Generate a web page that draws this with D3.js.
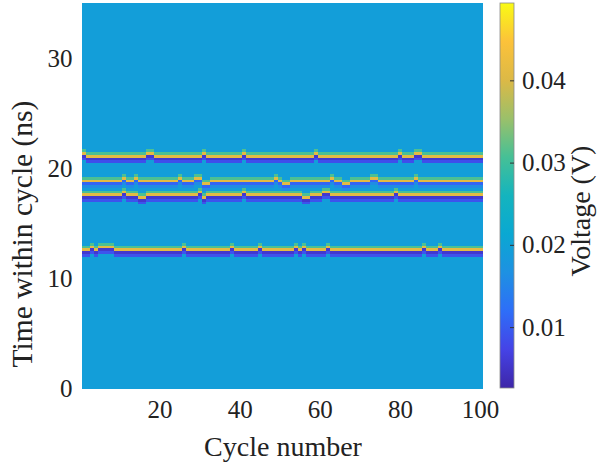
<!DOCTYPE html>
<html lang="en">

<head>
  <meta charset="UTF-8">
  <title>Voltage map per cycle</title>
  <style>
    body { margin: 0; background: #fff; }
    text { font-family: "Liberation Serif", "Times New Roman", serif; fill: #222; }
  </style>
</head>

<body>
  <div id="chart"></div>

  <script src="https://d3js.org/d3.v7.min.js"></script>
  <script>
    // ---- data ----
    const cycles = d3.range(1, 101)
    const timeStep = 0.25            // ns per sample
    const timeMax = 35
    const backgroundLevel = 0.0192   // V, flat part of the map

    // bright/dark pulse pairs: time of the bright sample (ns) and levels (V)
    const bandTimes = [21.0, 18.75, 17.5, 12.5]
    const bandRise = [0.031, 0.031, 0.031, 0.031]   // sample just after the peak
    const bandPeak = [0.041, 0.041, 0.041, 0.041]
    const bandDip = [0.0055, 0.011, 0.0055, 0.0055]
    const bandTail = [0.0085, 0.016, 0.009, 0.009]

    // per-cycle shift of each band, in samples (+1 = one sample later)
    const band1Shift = [1,0,0,0,0,0,0,0,0,0, 0,0,0,0,0,0,1,1,0,0, 0,0,0,0,0,0,0,0,0,0,
                        1,0,0,0,0,0,0,0,0,0, 1,0,0,0,0,0,0,0,0,0, 0,0,0,0,0,0,0,0,1,0,
                        0,0,0,0,0,0,0,0,0,0, 0,0,0,0,0,0,0,0,0,1, 0,0,0,1,1,0,0,0,0,0,
                        0,0,0,0,0,0,0,0,0,0]
    const band2Shift = [0,0,0,0,0,0,0,0,0,0, 1,0,0,1,0,0,0,0,0,0, 0,0,0,0,1,0,0,0,1,1,
                        -1,-1,0,0,0,0,0,0,0,0, 0,0,0,0,0,0,0,0,1,0, -1,-1,0,0,0,0,0,0,0,0,
                        0,0,1,0,0,-1,-1,0,0,0, 0,0,1,1,0,0,0,0,0,0, 0,0,0,1,0,0,0,0,0,0,
                        0,0,0,0,0,0,0,0,0,0]
    const band3Shift = [0,0,0,0,0,0,0,0,0,0, 1,0,0,0,-1,-1,0,0,0,0, 0,0,0,0,0,0,0,0,0,1,
                        -1,0,0,0,0,0,0,0,0,0, 1,0,0,0,0,0,0,0,0,0, 0,0,0,0,0,-1,-1,0,0,0,
                        1,1,0,0,0,0,0,0,0,0, 0,0,0,0,0,0,0,0,1,0, 0,0,0,0,0,0,0,0,0,0,
                        0,0,0,0,0,0,0,0,0,0]
    const band4Shift = [0,0,1,0,1,1,1,1,0,0, 0,0,0,0,0,0,0,0,0,0, 0,0,0,0,0,1,0,0,0,0,
                        0,0,0,0,0,0,0,1,0,0, 0,0,0,0,1,0,0,0,0,0, 0,0,0,1,0,1,0,0,0,0,
                        0,1,0,0,0,0,0,0,0,0, 0,0,0,0,0,0,0,0,0,0, 0,0,0,0,0,1,0,0,0,1,
                        0,0,0,0,0,0,0,0,0,0]
    const bandShifts = [band1Shift, band2Shift, band3Shift, band4Shift]

    const xTicks = [20, 40, 60, 80, 100]
    const yTicks = [0, 10, 20, 30]
    const cTicks = [0.01, 0.02, 0.03, 0.04]
    const cRange = [0.0026, 0.0494]

    // parula, sampled
    const parulaStops = ['#3e26a8', '#4543e6', '#2e6ef8', '#1e91e2', '#0aa8d2',
                         '#14b4be', '#46c096', '#9bc06a', '#dcb946', '#fcc23a', '#f9fb14']

    // ---- layout ----
    const width = 598
    const height = 466
    const plot = { left: 81.5, right: 482, top: 3, bottom: 388 }
    const bar = { left: 500, right: 514 }

    const svg = d3.select('#chart').append('svg')
      .attr('width', width)
      .attr('height', height)

    const x = d3.scaleLinear().domain([0.5, 100.5]).range([plot.left, plot.right])
    const y = d3.scaleLinear().domain([0, timeMax]).range([plot.bottom, plot.top])
    const tOf = d3.scaleLinear().domain(cRange).range([0, 1]).clamp(true)
    const color = d3.scaleLinear()
      .domain(parulaStops.map((d, i) => i / (parulaStops.length - 1)))
      .range(parulaStops)
    const colorOf = v => color(tOf(v))

    // build the matrix
    const nRows = Math.round(timeMax / timeStep)
    const cells = []
    cycles.forEach((c, ci) => {
      const col = new Array(nRows).fill(backgroundLevel)
      bandTimes.forEach((bt, bi) => {
        const k = Math.round(bt / timeStep) + bandShifts[bi][ci]
        col[k + 1] = bandRise[bi]
        col[k] = bandPeak[bi]
        col[k - 1] = bandDip[bi]
        col[k - 2] = Math.min(col[k - 2], bandTail[bi])
      })
      col.forEach((v, r) => cells.push({ c: c, t: r * timeStep, v: v }))
    })

    svg.append('g')
      .attr('shape-rendering', 'crispEdges')
      .selectAll('rect')
      .data(cells)
      .join('rect')
      .attr('x', d => x(d.c - 0.5))
      .attr('width', d => x(d.c + 0.5) - x(d.c - 0.5) + 0.5)
      .attr('y', d => y(d.t + timeStep))
      .attr('height', d => y(d.t) - y(d.t + timeStep) + 0.5)
      .attr('fill', d => colorOf(d.v))

    // axes
    const xAxis = svg.append('g')
      .attr('transform', `translate(0, ${plot.bottom})`)
      .call(d3.axisBottom(x).tickValues(xTicks).tickSize(0).tickPadding(12))
    xAxis.select('.domain').remove()
    xAxis.selectAll('text').style('font-size', '25px').attr('font-family', null)

    const yAxis = svg.append('g')
      .attr('transform', `translate(${plot.left}, 0)`)
      .call(d3.axisLeft(y).tickValues(yTicks).tickSize(0).tickPadding(9))
    yAxis.select('.domain').remove()
    yAxis.selectAll('text').style('font-size', '25px').attr('font-family', null)

    svg.append('text')
      .attr('x', 283)
      .attr('y', 456)
      .attr('text-anchor', 'middle')
      .style('font-size', '28px')
      .text('Cycle number')

    svg.append('text')
      .attr('transform', 'translate(32, 234) rotate(-90)')
      .attr('text-anchor', 'middle')
      .style('font-size', '29.5px')
      .text('Time within cycle (ns)')

    // colorbar
    const cy = d3.scaleLinear().domain(cRange).range([plot.bottom, plot.top])
    const grad = svg.append('defs').append('linearGradient')
      .attr('id', 'parula')
      .attr('x1', 0).attr('y1', 1).attr('x2', 0).attr('y2', 0)
    grad.selectAll('stop')
      .data(parulaStops)
      .join('stop')
      .attr('offset', (d, i) => i / (parulaStops.length - 1))
      .attr('stop-color', d => d)

    svg.append('rect')
      .attr('x', bar.left)
      .attr('y', plot.top)
      .attr('width', bar.right - bar.left)
      .attr('height', plot.bottom - plot.top)
      .attr('fill', 'url(#parula)')
      .attr('stroke', '#8a8a8a')
      .attr('stroke-width', 0.8)

    const cAxis = svg.append('g')
      .attr('transform', `translate(${bar.right}, 0)`)
      .call(d3.axisRight(cy).tickValues(cTicks).tickSize(-4).tickPadding(8).tickFormat(d3.format('.2f')))
    cAxis.select('.domain').remove()
    cAxis.selectAll('line').attr('stroke', '#333')
    cAxis.selectAll('text').style('font-size', '25px').attr('font-family', null)

    svg.append('text')
      .attr('transform', 'translate(590, 211) rotate(-90)')
      .attr('text-anchor', 'middle')
      .style('font-size', '28px')
      .text('Voltage (V)')
  </script>
</body>

</html>
